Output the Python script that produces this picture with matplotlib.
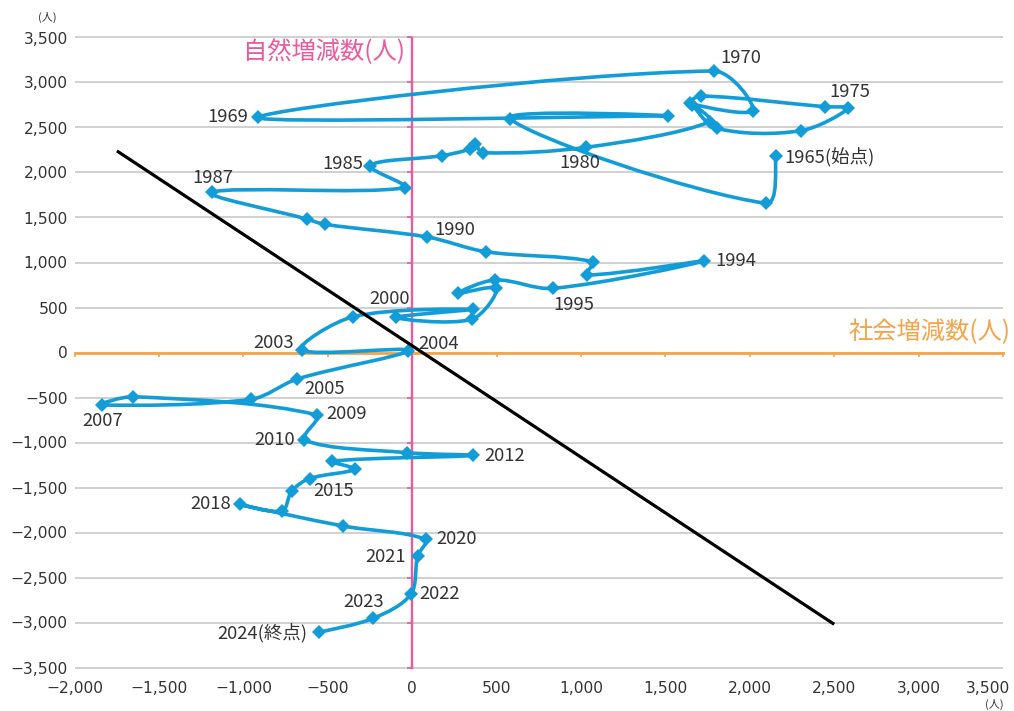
import math
import matplotlib
matplotlib.use("Agg")
import matplotlib.pyplot as plt
from matplotlib.path import Path
from matplotlib.patches import PathPatch
from matplotlib.ticker import FuncFormatter, FixedLocator

# ---------------- data ----------------
years = list(range(1965, 2025))
social = [2155, 2095, 579, 1517, -912, 1787, 2017, 1645, 1709, 2445,
          2583, 2301, 1803, 1660, 1764, 1031, 417, 371, 342, 174,
          -251, -43, -1188, -626, -517, 90, 435, 1069, 1033, 1728,
          835, 490, 273, 499, 352, -97, 361, -350, -656, -28,
          -681, -956, -1837, -1653, -566, -640, -33, 357, -476, -342,
          -608, -714, -772, -1021, -409, 79, 32, -9, -231, -553]
natural = [2187, 1658, 2598, 2628, 2613, 3128, 2687, 2769, 2850, 2731,
           2713, 2464, 2491, 2755, 2564, 2280, 2220, 2317, 2261, 2187,
           2076, 1831, 1780, 1483, 1424, 1283, 1120, 1009, 861, 1017,
           713, 806, 658, 713, 369, 391, 480, 398, 28, 22,
           -294, -520, -583, -491, -694, -972, -1113, -1144, -1208, -1297,
           -1401, -1539, -1761, -1687, -1928, -2076, -2261, -2687, -2953, -3109]
ref_line_x = [-1750, 2500]
ref_line_y = [2240, -3020]
x_ticks = list(range(-2000, 3501, 500))
y_ticks = list(range(-3500, 3501, 500))
y_title = "自然増減数(人)"
x_title = "社会増減数(人)"
label_text = {1965: "1965(始点)", 1969: "1969", 1970: "1970", 1975: "1975",
              1980: "1980", 1985: "1985", 1987: "1987", 1990: "1990",
              1994: "1994", 1995: "1995", 2000: "2000", 2003: "2003",
              2004: "2004", 2005: "2005", 2007: "2007", 2009: "2009",
              2010: "2010", 2012: "2012", 2015: "2015", 2018: "2018",
              2020: "2020", 2021: "2021", 2022: "2022", 2023: "2023",
              2024: "2024(終点)"}

# ---------------- style ----------------
# label placement: (dx px, dy px, ha)
label_pos = {1965: (8, -1, "left"), 1969: (-10, 0, "right"), 1970: (6, 13, "left"),
             1975: (2, 16, "center"), 1980: (-6, -16, "center"), 1985: (-7, 2, "right"),
             1987: (1, 14, "center"), 1990: (7, 7, "left"), 1994: (11, 0, "left"),
             1995: (21, -17, "center"), 2000: (-6, 18, "center"), 2003: (-8, 7, "right"),
             2004: (11, 7, "left"), 2005: (7, -10, "left"), 2007: (0, -16, "center"),
             2009: (10, 1, "left"), 2010: (-9, 0, "right"), 2012: (12, -1, "left"),
             2015: (4, -12, "left"), 2018: (-9, 0, "right"), 2020: (11, 0, "left"),
             2021: (-12, -1, "right"), 2022: (9, 0, "left"), 2023: (-10, 16, "center"),
             2024: (-11, 0, "right")}

BLUE = "#139dd8"
PINK = "#ec5a9e"
ORANGE = "#f6a449"
GRID = "#c4c4c4"
TXT = "#333333"
JP = ["Noto Sans CJK JP", "DejaVu Sans"]

plt.rcParams["font.family"] = JP

fig = plt.figure(figsize=(10.14, 7.11), dpi=100)
ax = fig.add_axes([74.7 / 1014, 1 - 667.5 / 711, (1003 - 74.7) / 1014, (667.5 - 37.5) / 711])
ax.set_xlim(-2000, 3500)
ax.set_ylim(-3500, 3500)
for s in ax.spines.values():
    s.set_visible(False)

# gridlines
ax.hlines(y_ticks, -2000, 3500, colors=GRID, linewidth=1.1, zorder=1, clip_on=False)

# orange x=0 axis line with ticks below
ax.axhline(0, color=ORANGE, linewidth=2.0, zorder=2, clip_on=False)
ax.vlines(x_ticks, -50, 0, colors=ORANGE, linewidth=1.2, zorder=2, clip_on=False)
# pink y axis line with ticks left
ax.axvline(0, color=PINK, linewidth=1.7, zorder=3, clip_on=False)
ax.hlines(y_ticks, -32, 0, colors=PINK, linewidth=1.2, zorder=3, clip_on=False)

# smooth curve through the points (cubic Bezier, length-weighted Catmull-Rom tangents,
# lengths measured in display space so the shape is independent of axis units)
fig.canvas.draw()
disp = ax.transData.transform(list(zip(social, natural)))
pts = list(zip(social, natural))
n = len(pts)

def dist(i, j):
    return math.hypot(disp[i][0] - disp[j][0], disp[i][1] - disp[j][1])

verts = [pts[0]]
codes = [Path.MOVETO]
for i in range(n - 1):
    i0 = max(i - 1, 0)
    i3 = min(i + 2, n - 1)
    p0, p1, p2, p3 = pts[i0], pts[i], pts[i + 1], pts[i3]
    d01, d12, d23 = dist(i0, i), dist(i, i + 1), dist(i + 1, i3)
    f1 = d12 / (d01 + d12) / 3 if d01 > 0 else 1 / 6
    f2 = d12 / (d12 + d23) / 3 if d23 > 0 else 1 / 6
    c1 = (p1[0] + (p2[0] - p0[0]) * f1, p1[1] + (p2[1] - p0[1]) * f1)
    c2 = (p2[0] - (p3[0] - p1[0]) * f2, p2[1] - (p3[1] - p1[1]) * f2)
    verts += [c1, c2, p2]
    codes += [Path.CURVE4] * 3
ax.add_patch(PathPatch(Path(verts, codes), facecolor="none", edgecolor=BLUE,
                       linewidth=2.6, capstyle="round", joinstyle="round", zorder=4))
ax.plot(social, natural, linestyle="none", marker="D", markersize=7.4,
        color=BLUE, markeredgewidth=0, zorder=5)

# black reference line
ax.plot(ref_line_x, ref_line_y, color="black", linewidth=2.3, zorder=6,
        solid_capstyle="butt")

# year labels
for yr, txt in label_text.items():
    i = years.index(yr)
    dx, dy, ha = label_pos[yr]
    ax.annotate(txt, xy=(social[i], natural[i]), xytext=(dx, dy),
                textcoords="offset pixels", ha=ha, va="center",
                fontsize=13.3, color=TXT, zorder=7)

# axis titles
ax.annotate(y_title, xy=(0, 3500), xytext=(-7, -15), textcoords="offset pixels",
            ha="right", va="center", fontsize=17.5, color=PINK, zorder=7)
ax.annotate(x_title, xy=(3500, 0), xytext=(7, 20), textcoords="offset pixels",
            ha="right", va="center", fontsize=17.5, color=ORANGE, zorder=7,
            annotation_clip=False)

# tick labels
def fmt(v, pos=None):
    return f"{int(round(v)):,}".replace("-", "\u2212")

ax.yaxis.set_major_locator(FixedLocator(y_ticks))
ax.xaxis.set_major_locator(FixedLocator(x_ticks))
ax.yaxis.set_major_formatter(FuncFormatter(fmt))
ax.xaxis.set_major_formatter(FuncFormatter(lambda v, p: "" if v >= 3500 else fmt(v)))
ax.tick_params(axis="both", length=0, labelsize=11.2, labelcolor=TXT)
ax.tick_params(axis="y", pad=5)
ax.tick_params(axis="x", pad=10)
for lab in ax.get_xticklabels() + ax.get_yticklabels():
    lab.set_fontfamily("DejaVu Sans")
ax.annotate(fmt(3500), xy=(3500, -3500), xytext=(7, -21), textcoords="offset pixels",
            ha="right", va="center", fontsize=11.2, color=TXT, family="DejaVu Sans",
            annotation_clip=False)

# unit labels
fig.text(47 / 1014, 1 - 17 / 711, "(人)", ha="center", va="center", fontsize=8, color=TXT)
fig.text(994 / 1014, 1 - 704 / 711, "(人)", ha="center", va="center", fontsize=8, color=TXT)

fig.savefig("out.png", dpi=100)
